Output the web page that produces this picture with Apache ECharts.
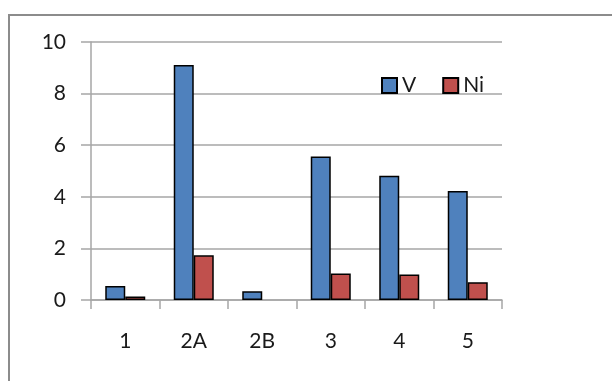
<!DOCTYPE html>
<html>
<head>
<meta charset="utf-8">
<script src="https://cdn.jsdelivr.net/npm/echarts@6/dist/echarts.min.js"></script>
<style>
  html, body { margin: 0; padding: 0; background: #fff; }
  #chart { width: 612px; height: 381px; }
</style>
</head>
<body>
<div id="chart"></div>
<script>
// samples along the x axis
var samples = ['1', '2A', '2B', '3', '4', '5'];
// values (2B has no Ni bar)
var vValues = [0.54, 9.11, 0.34, 5.56, 4.82, 4.22];
var niValues = [0.14, 1.73, null, 1.03, 0.99, 0.69];
var yTicks = [0, 2, 4, 6, 8, 10];

var myChart = echarts.init(document.getElementById('chart'));
var gridColor = '#a6a6a6';
var fontName = 'Lato';
var textColor = '#1a1a1a';

myChart.setOption({
    animation: false,
    color: ['#4f81bd', '#c0504d'],
    textStyle: { fontFamily: fontName },
    graphic: [{
        type: 'rect',
        shape: { x: 9, y: 15, width: 640, height: 400 },
        style: { fill: 'none', stroke: '#8c8c8c', lineWidth: 2 }
    }],
    legend: {
        left: 376,
        top: 70,
        itemWidth: 15,
        itemHeight: 15,
        itemGap: 26,
        icon: 'rect',
        textStyle: { fontSize: 21, color: textColor, fontFamily: fontName },
        data: ['V', 'Ni']
    },
    grid: { left: 91, top: 42, width: 411, height: 258, containLabel: false },
    xAxis: {
        type: 'category',
        data: samples,
        boundaryGap: true,
        axisLine: { show: true, lineStyle: { color: gridColor, width: 1.5 } },
        axisTick: { show: true, length: 9, lineStyle: { color: gridColor, width: 1.5 } },
        axisLabel: { margin: 31, fontSize: 21, color: textColor, fontFamily: fontName }
    },
    yAxis: {
        type: 'value',
        min: yTicks[0],
        max: yTicks[yTicks.length - 1],
        interval: 2,
        axisLine: { show: true, lineStyle: { color: gridColor, width: 1.5 } },
        axisTick: { show: true, length: 10, lineStyle: { color: gridColor, width: 1.5 } },
        splitLine: { show: true, lineStyle: { color: gridColor, width: 1.5 } },
        axisLabel: { margin: 25, fontSize: 21, color: textColor, fontFamily: fontName }
    },
    series: [
        {
            name: 'V',
            type: 'bar',
            barWidth: 20,
            barGap: 0,
            itemStyle: { borderColor: '#000', borderWidth: 1.5 },
            data: vValues
        },
        {
            name: 'Ni',
            type: 'bar',
            barWidth: 20,
            barGap: 0,
            itemStyle: { borderColor: '#000', borderWidth: 1.5 },
            data: niValues
        }
    ]
});
</script>
</body>
</html>
